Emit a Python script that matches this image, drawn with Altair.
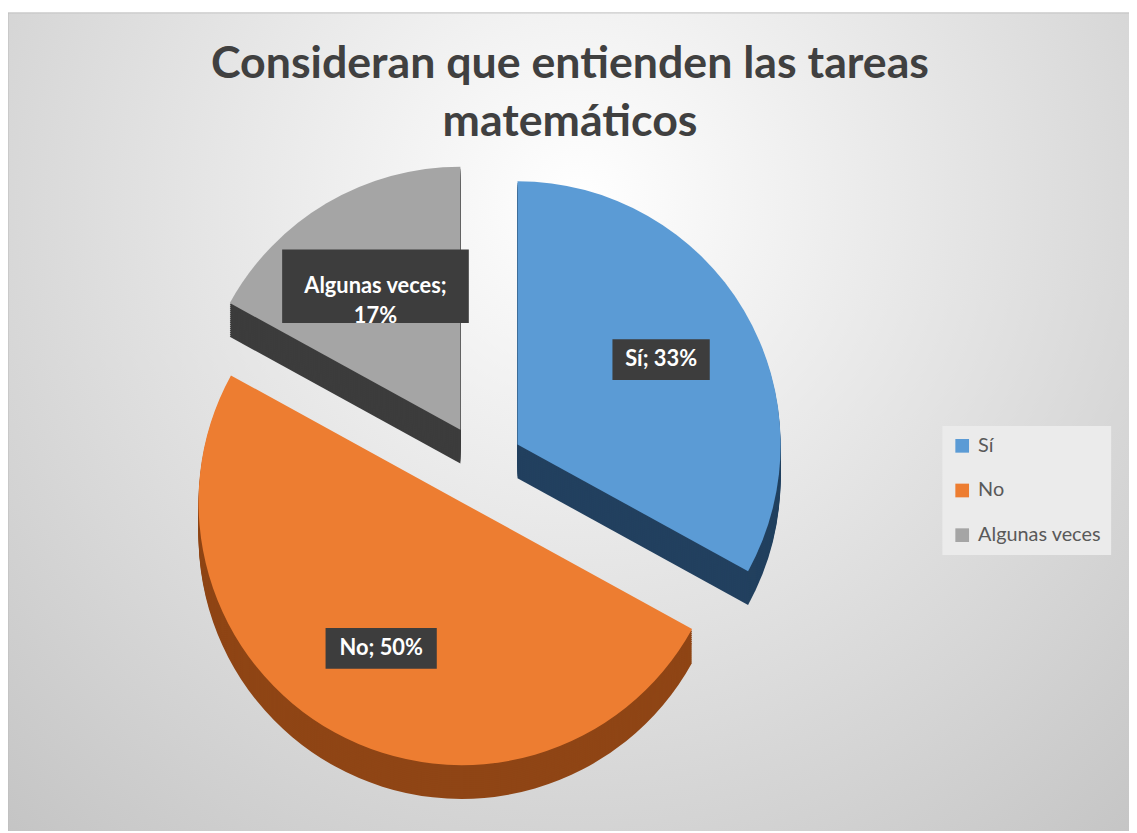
import altair as alt
import pandas as pd

# ---- data ----
categories = ["Sí", "No", "Algunas veces"]
values = [33, 50, 17]
order_idx = [0, 1, 2]
title_lines = ["Consideran que entienden las tareas", "matemáticos"]
title_idx = [0, 1]

df = pd.DataFrame({"cat": categories, "value": values, "idx": order_idx})
tdf = pd.DataFrame({"line": title_lines, "i": title_idx})

# ---- layout / style ----
W, H = 1129, 823
CX, CY = 477, 458
R = 265
EXPL = 42
LABR = 168
DEPTH = 34
FONT = "Lato"

top_colors = ["#5b9bd5", "#ed7d31", "#a5a5a5"]
side_colors = ["#22405f", "#8f4515", "#3c3c3c"]

base = (
    alt.Chart(df)
    .transform_joinaggregate(total="sum(value)")
    .transform_window(cum="sum(value)", sort=[alt.SortField("idx")], frame=[None, 0])
    .transform_calculate(
        start="(datum.cum - datum.value) / datum.total * 2 * PI",
        end="datum.cum / datum.total * 2 * PI",
    )
    .transform_calculate(mid="(datum.start + datum.end) / 2")
    .transform_calculate(
        px=f"{CX} + {EXPL} * sin(datum.mid)",
        py=f"{CY} - {EXPL} * cos(datum.mid)",
        lx=f"{CX} + {EXPL + LABR} * sin(datum.mid)",
        ly=f"{CY} - {EXPL + LABR} * cos(datum.mid)",
        pct="format(datum.value / datum.total, '.0%')",
    )
    .transform_calculate(
        lab="length(datum.cat) > 10 ? datum.cat + ';\\n' + datum.pct : datum.cat + '; ' + datum.pct",
        bw="length(datum.cat) > 10 ? 188 : (datum.cat == 'No' ? 112 : 98)",
        bh="length(datum.cat) > 10 ? 74 : 41",
    )
)

enc = dict(
    theta=alt.Theta("start:Q", scale=None),
    theta2="end:Q",
    x=alt.X("px:Q", scale=None),
    y=alt.Y("py:Q", scale=None),
)

gradient = {
    "gradient": "radial",
    "x1": 0.5, "y1": 0.3, "r1": 0,
    "x2": 0.5, "y2": 0.3, "r2": 0.75,
    "stops": [
        {"offset": 0, "color": "#ffffff"},
        {"offset": 1, "color": "#c4c4c4"},
    ],
}

bg = alt.Chart(pd.DataFrame({"a": [0]})).mark_rect(
    fill=gradient, stroke="#bdbdbd", strokeWidth=1
).encode(x=alt.value(0), x2=alt.value(W + 20), y=alt.value(2), y2=alt.value(H + 20))

sides = []
for d in range(DEPTH, 0, -2):
    sides.append(
        base.mark_arc(radius=R, yOffset=d).encode(
            color=alt.Color(
                "cat:N",
                scale=alt.Scale(domain=categories, range=side_colors),
                legend=None,
            ),
            **enc,
        )
    )

top = base.mark_arc(radius=R).encode(
    color=alt.Color(
        "cat:N",
        scale=alt.Scale(domain=categories, range=top_colors),
        legend=alt.Legend(
            title=None,
            orient="none",
            legendX=941,
            legendY=418,
            symbolType="square",
            symbolSize=190,
            symbolStrokeWidth=0,
            labelFont=FONT,
            labelFontSize=20,
            labelColor="#595959",
            rowPadding=25,
            fillColor="#ebebeb",
            padding=10,
            labelOffset=6,
        ),
    ),
    **enc,
)

boxes = base.mark_rect(color="#3d3d3d").encode(
    x=alt.X("bx:Q", scale=None),
    x2="bx2:Q",
    y=alt.Y("by:Q", scale=None),
    y2="by2:Q",
).transform_calculate(
    bx="datum.lx - datum.bw / 2",
    bx2="datum.lx + datum.bw / 2",
    by="datum.ly - datum.bh / 2",
    by2="datum.ly + datum.bh / 2",
)

labels = base.mark_text(
    font=FONT, fontSize=22, fontWeight="bold", color="white",
    lineBreak="\n", lineHeight=30, baseline="middle", align="center",
).encode(
    x=alt.X("lx:Q", scale=None),
    y=alt.Y("ly:Q", scale=None),
    text="lab:N",
)

title = alt.Chart(tdf).mark_text(
    font=FONT, fontSize=45, fontWeight="bold", color="#404040",
    align="center", baseline="middle",
).encode(
    x=alt.value(566),
    y=alt.Y("ty:Q", scale=None),
    text="line:N",
).transform_calculate(ty="54 + datum.i * 58")

chart = (
    alt.layer(bg, *sides, top, boxes, labels, title)
    .properties(width=W, height=H, autosize="none", padding=0)
    .resolve_scale(color="independent")
    .configure_view(stroke=None)
)

chart.save("out.html", embed_options={"renderer": "svg", "actions": False})
